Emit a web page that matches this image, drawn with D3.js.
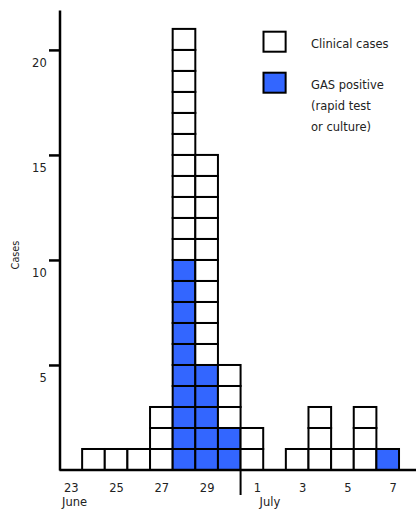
<!DOCTYPE html>
<html>
<head>
<meta charset="utf-8">
<script src="https://cdnjs.cloudflare.com/ajax/libs/d3/7.8.5/d3.min.js"></script>
<style>
    body { margin: 0; background: white; }
    svg { display: block; }
    text { font-family: "DejaVu Sans", Verdana, sans-serif; fill: #222; }
</style>
</head>
<body>
<script>

// one entry per day, June 23 .. July 7
var days = ["23", "24", "25", "26", "27", "28", "29", "30", "1", "2", "3", "4", "5", "6", "7"];
var clinical = [0, 1, 1, 1, 3, 21, 15, 5, 2, 0, 1, 3, 1, 3, 1];
var gasPositive = [0, 0, 0, 0, 0, 10, 5, 2, 0, 0, 0, 0, 0, 0, 1];
var labelledDays = [0, 2, 4, 6, 8, 10, 12, 14];
var months = [{ name: "June", start: 0 }, { name: "July", start: 8 }];
var yTicks = [5, 10, 15, 20];
var legendItems = [
    { lines: ["Clinical cases"], color: "white" },
    { lines: ["GAS positive", "(rapid test", "or culture)"], color: "#3366ff" }
];

var width = 416, height = 510;

var svg = d3.select("body").append("svg")
    .attr("width", width)
    .attr("height", height);

var x = d3.scaleLinear().domain([0, 15.75]).range([59.5, 416]);
var y = d3.scaleLinear().domain([0, 21.9]).range([470, 10]);

var cellW = x(1) - x(0);
var cellH = y(0) - y(1);

// one square per case
var cells = [];
clinical.forEach(function (n, i) {
    for (var k = 0; k < n; k++) {
        cells.push({ day: i, level: k, gas: k < gasPositive[i] });
    }
});

svg.append("g").selectAll("rect")
    .data(cells)
    .enter()
    .append("rect")
    .attr("x", d => x(d.day))
    .attr("y", d => y(d.level + 1))
    .attr("width", cellW)
    .attr("height", cellH)
    .attr("fill", d => d.gas ? "#3366ff" : "white")
    .attr("stroke", "black")
    .attr("stroke-width", 2);

// y axis
var yAxis = d3.axisLeft(y)
    .tickValues(yTicks)
    .tickSize(10.5)
    .tickSizeOuter(0)
    .tickFormat(d3.format("d"));

var yAxisGroup = svg.append("g")
    .attr("transform", "translate(" + x(0) + ",0)")
    .call(yAxis);

yAxisGroup.select(".domain").attr("stroke-width", 2.5);
yAxisGroup.selectAll(".tick line").attr("stroke-width", 2.5);
yAxisGroup.selectAll(".tick text")
    .attr("x", -12.8)
    .attr("dy", 17)
    .style("font-size", "11.5px")
    .style("font-family", "DejaVu Sans");

// baseline
svg.append("line")
    .attr("x1", x(0))
    .attr("x2", width)
    .attr("y1", y(0))
    .attr("y2", y(0))
    .attr("stroke", "black")
    .attr("stroke-width", 2.5);

// x labels
var xAxis = d3.axisBottom(d3.scaleLinear().domain(x.domain()).range(x.range()))
    .tickValues(labelledDays.map(i => i + 0.5))
    .tickSize(0)
    .tickFormat(v => days[Math.floor(v)]);

var xAxisGroup = svg.append("g")
    .attr("transform", "translate(0," + y(0) + ")")
    .call(xAxis);

xAxisGroup.select(".domain").remove();
xAxisGroup.selectAll(".tick text")
    .attr("y", 22)
    .attr("dy", 0)
    .attr("dx", v => v > months[1].start ? 5 : 0)
    .style("font-size", "11.5px")
    .style("font-family", "DejaVu Sans");

// month divider
svg.append("line")
    .attr("x1", x(months[1].start))
    .attr("x2", x(months[1].start))
    .attr("y1", y(0))
    .attr("y2", 495)
    .attr("stroke", "black")
    .attr("stroke-width", 2);

svg.selectAll(".month")
    .data(months)
    .enter()
    .append("text")
    .attr("class", "month")
    .attr("x", d => x(d.start) + (d.start === 0 ? 2.5 : 19))
    .attr("y", 506)
    .style("font-size", "11.5px")
    .text(d => d.name);

// y label
svg.append("text")
    .attr("transform", "translate(18.5,255) rotate(-90)")
    .attr("text-anchor", "middle")
    .style("font-size", "9.7px")
    .text("Cases");

// legend
var legend = svg.append("g").selectAll("g")
    .data(legendItems)
    .enter()
    .append("g")
    .attr("transform", (d, i) => "translate(263.5," + (31.7 + i * 41) + ")");

legend.append("rect")
    .attr("width", cellW - 0.5)
    .attr("height", cellH - 1)
    .attr("fill", d => d.color)
    .attr("stroke", "black")
    .attr("stroke-width", 2);

legend.each(function (d) {
    var t = d3.select(this).append("text")
        .style("font-size", "11.5px");
    d.lines.forEach(function (line, j) {
        t.append("tspan")
            .attr("x", 47.5)
            .attr("y", 16.5 + j * 21)
            .text(line);
    });
});

</script>
</body>
</html>
